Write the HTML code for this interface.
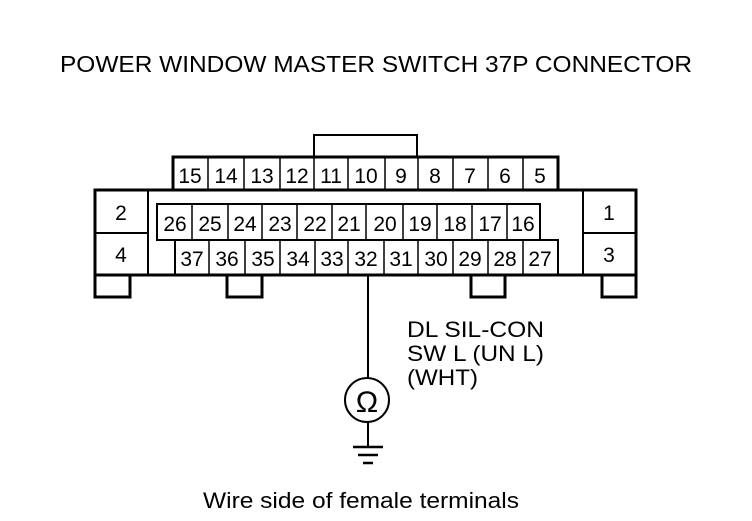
<!DOCTYPE html>
<html><head><style>body{margin:0;background:#fff}</style></head><body>
<svg width="752" height="516" viewBox="0 0 752 516" xmlns="http://www.w3.org/2000/svg" font-family="Liberation Sans, sans-serif" fill="none" stroke="#000">
<text x="60" y="72" font-size="23" textLength="632" lengthAdjust="spacingAndGlyphs" fill="#000" stroke="none">POWER WINDOW MASTER SWITCH 37P CONNECTOR</text>
<!-- latch -->
<path d="M314 157V135H417V157" stroke-width="2"/>
<!-- top row -->
<rect x="173" y="157" width="385" height="33" stroke-width="3"/>
<g stroke-width="1.5">
<path d="M208 157V190M244 157V190M280 157V190M314 157V190M348 157V190M385 157V190M418 157V190M453 157V190M488 157V190M523 157V190"/>
</g>
<!-- body -->
<rect x="95" y="190" width="541" height="85" stroke-width="3"/>
<path d="M148 190V275M583 190V275M95 233H148M583 233H636" stroke-width="2"/>
<!-- feet -->
<path d="M95 275V297H130V275M227 275V297H262V275M471 275V297H505V275M602 275V297H636V275" stroke-width="3"/>
<!-- row 26-16 -->
<rect x="157" y="204" width="383" height="36" stroke-width="2"/>
<path d="M192 204V240M228 204V240M262 204V240M297 204V240M332 204V240M366 204V240M403 204V240M437 204V240M472 204V240M507 204V240" stroke-width="1.5"/>
<!-- row 37-27 -->
<path d="M175 275V240M558 275V240H540" stroke-width="2"/>
<path d="M175 240H157" stroke-width="2"/>
<path d="M209 240V275M245 240V275M280 240V275M315 240V275M348 240V275M384 240V275M418 240V275M453 240V275M488 240V275M523 240V275" stroke-width="1.5"/>
<g fill="#000" stroke="none" font-size="21" text-anchor="middle">
<text x="190" y="183">15</text><text x="226" y="183">14</text><text x="262" y="183">13</text><text x="297" y="183">12</text><text x="331" y="183">11</text><text x="366" y="183">10</text><text x="401" y="183">9</text><text x="435" y="183">8</text><text x="470" y="183">7</text><text x="505" y="183">6</text><text x="540" y="183">5</text>
<text x="121" y="220">2</text><text x="121" y="262">4</text><text x="609" y="220">1</text><text x="609" y="262">3</text>
<text x="175" y="231">26</text><text x="210" y="231">25</text><text x="245" y="231">24</text><text x="280" y="231">23</text><text x="315" y="231">22</text><text x="349" y="231">21</text><text x="385" y="231">20</text><text x="420" y="231">19</text><text x="455" y="231">18</text><text x="490" y="231">17</text><text x="523" y="231">16</text>
<text x="192" y="266">37</text><text x="227" y="266">36</text><text x="263" y="266">35</text><text x="298" y="266">34</text><text x="332" y="266">33</text><text x="366" y="266">32</text><text x="401" y="266">31</text><text x="436" y="266">30</text><text x="470" y="266">29</text><text x="505" y="266">28</text><text x="540" y="266">27</text>
</g>
<!-- wire -->
<path d="M368 275V378M368 422V447" stroke-width="2"/>
<circle cx="367" cy="400" r="22" stroke-width="2"/>
<text x="367" y="412" font-size="30" text-anchor="middle" fill="#000" stroke="none">Ω</text>
<path d="M353 447H383M358 455H378M363 463H373" stroke-width="2.5"/>
<g fill="#000" stroke="none" font-size="22">
<text x="407" y="337" textLength="137" lengthAdjust="spacingAndGlyphs">DL SIL-CON</text>
<text x="407" y="361" textLength="137" lengthAdjust="spacingAndGlyphs">SW L (UN L)</text>
<text x="407" y="385" textLength="71" lengthAdjust="spacingAndGlyphs">(WHT)</text>
</g>
<text x="203" y="508" font-size="22" textLength="316" lengthAdjust="spacingAndGlyphs" fill="#000" stroke="none">Wire side of female terminals</text>
</svg>
</body></html>
